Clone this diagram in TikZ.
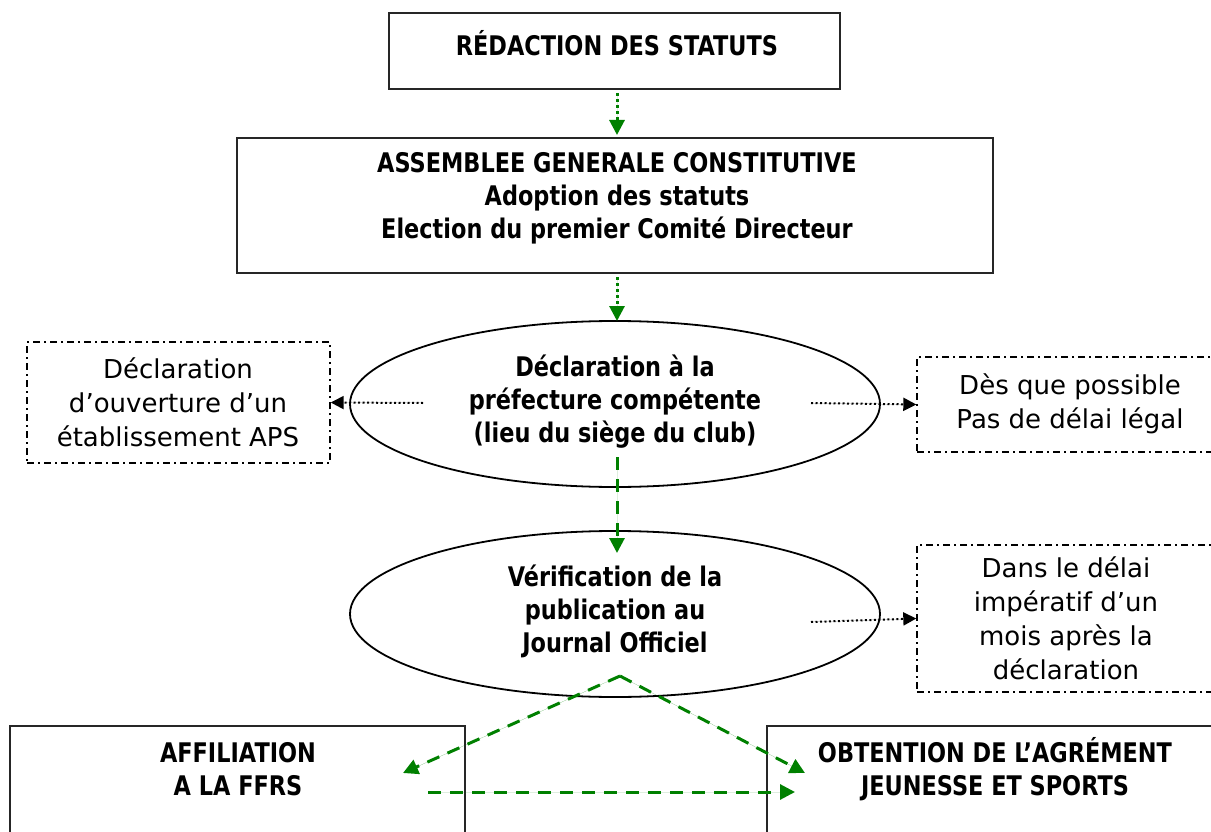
\documentclass[tikz,border=0pt]{standalone}
\usepackage{fontspec}
\setmainfont{DejaVu Sans}[BoldFeatures={FakeStretch=0.83}]
\usetikzlibrary{arrows.meta,shapes.geometric}
\definecolor{arrowgreen}{RGB}{0,128,0}
\tikzset{
  box/.style={draw=black!85, line width=2pt, rectangle, inner sep=0pt},
  oval/.style={draw=black, line width=1.8pt, ellipse, inner sep=0pt},
  notebox/.style={draw=black, line width=1.4pt, rectangle, inner sep=0pt,
    dash pattern=on 7pt off 4pt on 2pt off 4pt},
  boldtxt/.style={font=\fontsize{27}{33}\selectfont\bfseries, align=center, inner sep=0pt},
  regtxt/.style={font=\fontsize{26}{34}\selectfont, align=center, inner sep=0pt},
  gtip/.style={-{Triangle[length=15pt,width=15pt]}},
  gdot/.style={gtip, draw=arrowgreen, fill=arrowgreen, line width=3pt, dash pattern=on 3pt off 3pt},
  gdash/.style={gtip, draw=arrowgreen, fill=arrowgreen, line width=3pt, dash pattern=on 13pt off 9pt},
  bdot/.style={-{Triangle[length=13pt,width=13pt]}, draw=black, fill=black, line width=2pt, dash pattern=on 2pt off 2.5pt},
}
\begin{document}
\begin{tikzpicture}[x=1pt,y=-1pt]
\clip (0,0) rectangle (1211,832);
\useasboundingbox (0,0) rectangle (1211,832);

% boxes
\node[box, minimum width=451pt, minimum height=76pt] (redac) at (614.5,51) {};
\node[boldtxt] (redact) at (617,43) {RÉDACTION DES STATUTS};

\node[box, minimum width=756pt, minimum height=135pt] (ag) at (615,205.5) {};
\node[boldtxt] (agt) at (617,198) {ASSEMBLEE GENERALE CONSTITUTIVE\\Adoption des statuts\\Election du premier Comité Directeur};

\node[oval, minimum width=530pt, minimum height=166pt] (decl) at (615,404) {};
\node[boldtxt] (declt) at (615,402) {Déclaration à la\\préfecture compétente\\(lieu du siège du club)};

\node[notebox, minimum width=303pt, minimum height=121pt] (aps) at (178.5,402.5) {};
\node[regtxt] (apst) at (178,402) {Déclaration\\d’ouverture d’un\\établissement APS};

\node[notebox, minimum width=300pt, minimum height=95pt] (des) at (1067,404.5) {};
\node[regtxt] (dest) at (1070,403.5) {Dès que possible\\Pas de délai légal};

\node[oval, minimum width=530pt, minimum height=166pt] (verif) at (615,614) {};
\node[boldtxt] (verift) at (615,611) {Vérification de la\\publication au\\Journal Officiel};

\node[notebox, minimum width=300pt, minimum height=147pt] (dans) at (1067,618.5) {};
\node[regtxt] (danst) at (1066,618.5) {Dans le délai\\impératif d’un\\mois après la\\déclaration};

\node[box, minimum width=455pt, minimum height=140pt] (affil) at (237.5,796) {};
\node[boldtxt] (affilt) at (238,769) {AFFILIATION\\A LA FFRS};

\node[box, minimum width=480pt, minimum height=140pt] (agrem) at (1007,796) {};
\node[boldtxt] (agremt) at (995,769) {OBTENTION DE L’AGRÉMENT\\JEUNESSE ET SPORTS};

% coordinates for free ends
\coordinate (dl) at (423,403);
\coordinate (dr) at (811,403);
\coordinate (dd) at (617,457);
\coordinate (ddend) at (617,553);
\coordinate (vr) at (811,622);
\coordinate (apex) at (620,676);
\coordinate (la) at (403,773);
\coordinate (ra) at (805,773);
\coordinate (hs) at (428,792);
\coordinate (he) at (795,792);

% connectors
\draw[gdot, shorten <=3pt, shorten >=2pt] (redac.south -| 617,0) -- (ag.north -| 617,0);
\draw[gdot, shorten <=3pt, shorten >=0pt] (ag.south -| 617,0) -- (617,321);
\draw[bdot] (dl) -- (aps.east);
\draw[bdot] (dr) -- (des.west);
\draw[gdash] (dd) -- (ddend);
\draw[bdot] (vr) -- (dans.west);
\draw[gdash] (apex) -- (la);
\draw[gdash] (apex) -- (ra);
\draw[gdash] (hs) -- (he);
\end{tikzpicture}
\end{document}
